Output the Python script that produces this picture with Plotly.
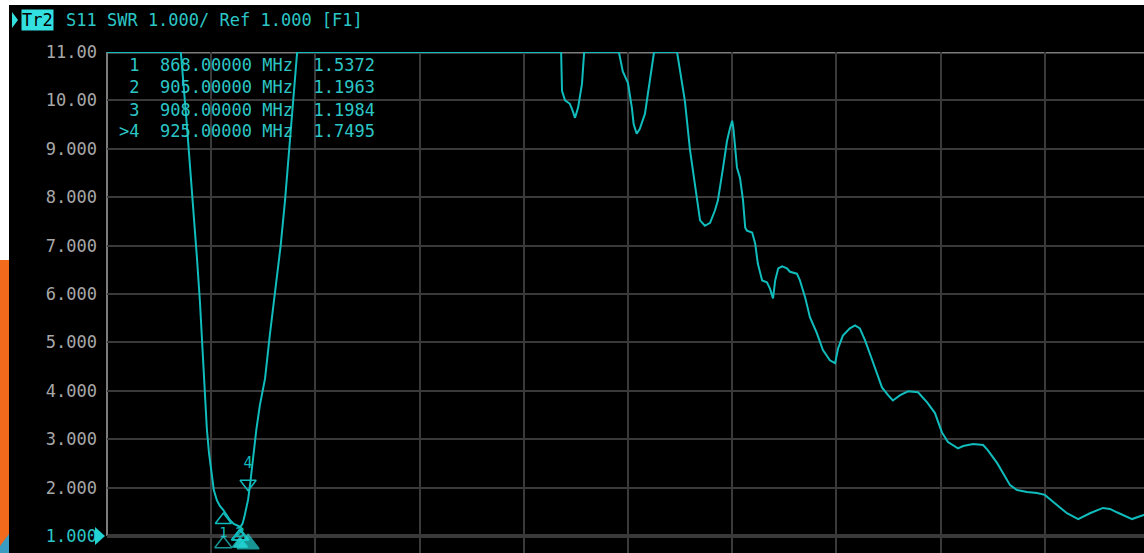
import plotly.graph_objects as go

# ---------------- data ----------------
freq_mhz = [600, 770, 784, 798, 807, 814, 821, 826, 830, 835, 842, 846, 853, 860, 868, 875, 883, 892, 900,
            905, 908, 912, 916, 920, 925, 930, 936, 944, 952, 964, 975, 987, 1000, 1010, 1024, 1038,
            1646, 1648, 1655, 1666, 1672, 1678, 1685, 1690, 1694, 1699,
            1779, 1788, 1800, 1809, 1813, 1820, 1827, 1839, 1850, 1860,
            1913, 1924, 1931, 1943, 1954, 1966, 1977, 1989, 2000, 2007, 2019, 2028, 2035, 2040, 2043,
            2051, 2058, 2065, 2070, 2074, 2086, 2093, 2099, 2109, 2120, 2127, 2134, 2139, 2146, 2155,
            2166, 2173, 2189, 2196, 2208, 2219, 2235, 2249, 2265, 2277, 2284, 2295, 2311, 2323, 2334,
            2346, 2357, 2374, 2385, 2399, 2410, 2427, 2445, 2468, 2489, 2507, 2523, 2537, 2560, 2572,
            2595, 2618, 2629, 2650, 2664, 2680, 2696, 2719, 2742, 2760, 2788, 2811, 2837, 2864, 2894,
            2910, 2926, 2961, 2986, 3000]
swr = [11, 11, 9.49, 7.93, 6.77, 5.85, 4.71, 3.89, 3.21, 2.71, 2.20, 1.95, 1.74, 1.62, 1.537, 1.44, 1.33, 1.25, 1.21,
       1.196, 1.198, 1.25, 1.38, 1.53, 1.75, 2.10, 2.60, 3.20, 3.70, 4.25, 5.15, 6.07, 7.00, 7.93, 9.45, 11,
       11, 10.2, 10.0, 9.93, 9.80, 9.64, 9.85, 10.1, 10.34, 11,
       11, 10.6, 10.36, 9.84, 9.51, 9.31, 9.41, 9.72, 10.34, 11,
       11, 10.34, 9.99, 8.96, 8.28, 7.52, 7.41, 7.47, 7.72, 7.93, 8.61, 9.16, 9.43, 9.58, 9.40,
       8.61, 8.40, 7.93, 7.37, 7.31, 7.27, 7.04, 6.63, 6.28, 6.24, 6.11, 5.91, 6.28, 6.53, 6.57,
       6.53, 6.46, 6.42, 6.28, 5.93, 5.52, 5.19, 4.84, 4.63, 4.57, 4.88, 5.14, 5.29, 5.35, 5.29,
       5.04, 4.77, 4.36, 4.07, 3.91, 3.80, 3.91, 3.99, 3.97, 3.76, 3.54, 3.14, 2.94, 2.81, 2.86,
       2.90, 2.88, 2.77, 2.51, 2.30, 2.05, 1.95, 1.91, 1.89, 1.85, 1.64, 1.47, 1.35, 1.47, 1.58,
       1.56, 1.49, 1.35, 1.43, 1.46]

marker_labels = ["1", "2", "3", ">4"]
marker_freq = [868.0, 905.0, 908.0, 925.0]
marker_swr = [1.5372, 1.1963, 1.1984, 1.7495]

ytick_vals = [1, 2, 3, 4, 5, 6, 7, 8, 9, 10, 11]
ytick_text = ["1.000", "2.000", "3.000", "4.000", "5.000", "6.000", "7.000", "8.000", "9.000", "10.00", "11.00"]

header_text = "S11 SWR 1.000/ Ref 1.000 [F1]"
trace_name = "Tr2"

# ---------------- style ----------------
W, H = 1144, 553
L, T, B = 107, 52, 536          # graticule pixels (left, top, bottom)
PW = W - L
PH = H - T                      # plot area runs to the bottom of the page
upix = (B - T) / 10.0           # pixels per SWR unit
y_top = 11.0
y_lo = 1.0 - (H - B) / upix
CYAN = "#10bcbc"
TXT_CYAN = "#2cc6c6"
BRIGHT = "#22d4d4"
GRID = "#3a3a3a"
AXL = "#7c7c7c"
MONO = "DejaVu Sans Mono"
FS = 17
NB = "\u00a0"

f_start, f_stop = 600.0, 3000.0
full_w = 1042.0                 # full graticule width in pixels (cut off at the right)
x_max = f_start + (f_stop - f_start) * PW / full_w


def px(x):
    return (x - L) / PW


def py(y):
    return (H - y) / PH


fig = go.Figure()

fig.add_trace(go.Scatter(x=freq_mhz, y=swr, mode="lines",
                         line=dict(color=CYAN, width=2), hoverinfo="skip"))

# marker symbols on the trace
act = len(marker_labels) - 1
fig.add_trace(go.Scatter(
    x=marker_freq[:act], y=[v - 10 / upix for v in marker_swr[:act]],
    mode="markers", cliponaxis=False,
    marker=dict(symbol="triangle-up-open", size=14, color=CYAN, line=dict(width=1.5, color=CYAN))))
fig.add_trace(go.Scatter(
    x=marker_freq[:act], y=[max(v - 28 / upix, 1 + 3 / upix) for v in marker_swr[:act]],
    mode="text", cliponaxis=False, text=[m.strip(">") for m in marker_labels[:act]],
    textfont=dict(family=MONO, size=14, color=CYAN)))
fig.add_trace(go.Scatter(
    x=[marker_freq[act]], y=[marker_swr[act] + 16 / upix],
    mode="markers", cliponaxis=False,
    marker=dict(symbol="triangle-down-open", size=14, color=CYAN, line=dict(width=1.5, color=CYAN))))
fig.add_trace(go.Scatter(
    x=[marker_freq[act]], y=[marker_swr[act] + 35 / upix],
    mode="text", cliponaxis=False, text=[marker_labels[act].strip(">")],
    textfont=dict(family=MONO, size=15, color=CYAN)))
# stimulus indicators below the graticule
fig.add_trace(go.Scatter(
    x=marker_freq, y=[1 - 8 / upix] * len(marker_freq),
    mode="markers", cliponaxis=False,
    marker=dict(symbol=["triangle-up-open", "triangle-up", "triangle-up", "triangle-up"],
                size=[15, 12, 12, 19], color=BRIGHT, line=dict(width=1.5, color=BRIGHT))))

# marker table
row_y = [64.5, 87, 109.5, 131]
for lab, f, v, yy in zip(marker_labels, marker_freq, marker_swr, row_y):
    s = f"{lab:>2}  {f:.5f} MHz  {v:.4f}".replace(" ", NB)
    fig.add_annotation(x=px(117), y=py(yy), xref="paper", yref="paper", text=s, showarrow=False,
                       xanchor="left", yanchor="middle", font=dict(family=MONO, size=FS, color=TXT_CYAN))

# header
fig.add_annotation(x=px(21), y=py(20), xref="paper", yref="paper", text=trace_name, showarrow=False,
                   xanchor="left", yanchor="middle", bgcolor="#33e0e0", borderpad=0,
                   font=dict(family=MONO, size=FS, color="#000000"))
fig.add_annotation(x=px(64), y=py(20), xref="paper", yref="paper", text=header_text, showarrow=False,
                   xanchor="left", yanchor="middle", font=dict(family=MONO, size=FS, color=TXT_CYAN))

shapes = []


def rect(x0, y0, x1, y1, color):
    shapes.append(dict(type="rect", xref="paper", yref="paper", x0=px(x0), x1=px(x1), y0=py(y1), y1=py(y0),
                       fillcolor=color, line=dict(width=0), layer="above"))


def poly(pts, color):
    d = "M " + " L ".join(f"{px(a):.5f},{py(b):.5f}" for a, b in pts) + " Z"
    shapes.append(dict(type="path", xref="paper", yref="paper", path=d, fillcolor=color,
                       line=dict(width=0), layer="above"))


# mask the gridlines below the reference line
shapes.append(dict(type="rect", xref="paper", yref="y", x0=-0.002, x1=1.002, y0=y_lo - 0.1, y1=1,
                   fillcolor="#000000", line=dict(width=0), layer="below"))
# graticule frame (top, bottom reference line, left edge)
shapes.append(dict(type="line", xref="paper", yref="y", x0=0, x1=1, y0=y_top, y1=y_top,
                   line=dict(color=AXL, width=3), layer="below"))
shapes.append(dict(type="line", xref="paper", yref="y", x0=0, x1=1, y0=1, y1=1,
                   line=dict(color="#707070", width=3), layer="below"))
shapes.append(dict(type="line", xref="paper", yref="y", x0=0, x1=0, y0=1, y1=y_top,
                   line=dict(color=AXL, width=2), layer="below"))

rect(0, 0, W, 5, "#ffffff")
rect(0, 0, 9, 260, "#ffffff")
rect(0, 260, 9, H, "#f26a1b")
poly([(0, 546), (9, 534), (9, H), (0, H)], "#3a9cc0")
# header arrow and reference-level arrow
poly([(12, 12), (18, 20), (12, 28)], "#33e0e0")
poly([(95, 527), (105, 536), (95, 545)], BRIGHT)

fig.update_layout(
    width=W, height=H, margin=dict(l=L, r=0, t=T, b=0),
    paper_bgcolor="#000000", plot_bgcolor="#000000", showlegend=False,
    shapes=shapes,
    xaxis=dict(range=[f_start, x_max], tick0=f_start, dtick=(f_stop - f_start) / 10,
               showgrid=True, gridcolor=GRID, gridwidth=2, showticklabels=False, ticks="",
               zeroline=False, showline=False),
    yaxis=dict(range=[y_lo, y_top], tickvals=ytick_vals,
               ticktext=[f"<span style='color:{TXT_CYAN}'>{t}</span>" if v == 1 else t
                         for v, t in zip(ytick_vals, ytick_text)],
               showgrid=True, gridcolor=GRID, gridwidth=2, ticks="", ticklabelstandoff=9,
               tickfont=dict(family=MONO, size=FS, color="#a8a8a8"),
               zeroline=False, showline=False),
)

fig.write_html("out.html")
